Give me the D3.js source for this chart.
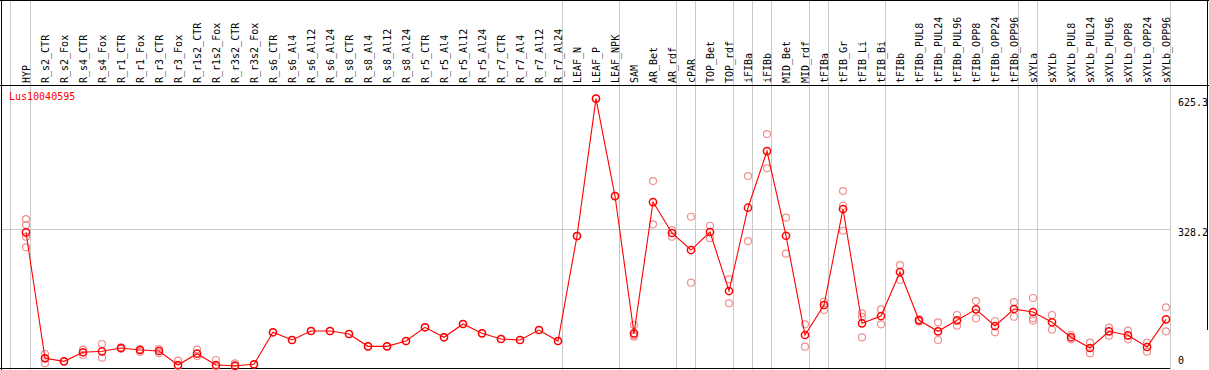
<!DOCTYPE html>
<html><head><meta charset="utf-8">
<script src="https://cdn.jsdelivr.net/npm/d3@7"></script>
<style>html,body{margin:0;padding:0;background:#fff;}svg{display:block;}</style>
</head><body>
<script>
const categories = ["HYP","R_s2_CTR","R_s2_Fox","R_s4_CTR","R_s4_Fox","R_r1_CTR","R_r1_Fox","R_r3_CTR","R_r3_Fox","R_r1s2_CTR","R_r1s2_Fox","R_r3s2_CTR","R_r3s2_Fox","R_s6_CTR","R_s6_Al4","R_s6_Al12","R_s6_Al24","R_s8_CTR","R_s8_Al4","R_s8_Al12","R_s8_Al24","R_r5_CTR","R_r5_Al4","R_r5_Al12","R_r5_Al24","R_r7_CTR","R_r7_Al4","R_r7_Al12","R_r7_Al24","LEAF_N","LEAF_P","LEAF_NPK","SAM","AR_Bet","AR_rdf","cPAR","TOP_Bet","TOP_rdf","iFIBa","iFIBb","MID_Bet","MID_rdf","tFIBa","tFIB_Gr","tFIB_Li","tFIB_Bi","tFIBb","tFIBb_PUL8","tFIBb_PUL24","tFIBb_PUL96","tFIBb_OPP8","tFIBb_OPP24","tFIBb_OPP96","sXYLa","sXYLb","sXYLb_PUL8","sXYLb_PUL24","sXYLb_PUL96","sXYLb_OPP8","sXYLb_OPP24","sXYLb_OPP96"];
const meanValues = [320.6,33.3,26.4,47,49.2,56.8,52.2,49.9,18,43.8,18,16.4,19.6,92.6,75,95.5,95.5,88.7,60.6,60.6,72.7,104,81.2,111.5,90.3,77.3,75,97.8,72.7,312.1,625.3,403.3,90.3,389.6,319,280.2,321.3,186.7,376.7,505.9,312.8,86.4,154.8,373.7,113.1,129.7,230,119.9,94.8,119.9,145,106.9,145.7,138.9,115.4,81.2,56.8,94.8,85.7,59.1,122.2];
const replicateValues = [[350.9,337.2,310.5,286.4],[43.1,21.9,33.3],[26.4],[52.9,40.8],[65.9,34.7],[58,55],[54,48],[54,45],[27.8,16],[52.9,38.5],[29.4,16],[21.9,15],[19.6],[92.6],[75],[95.5],[95.5],[88.7],[60.6],[60.6],[72.7],[104],[81.2],[111.5],[90.3],[77.3],[75],[97.8],[72.7],[312.1],[625.3],[403.3],[109.2,82.5,86],[437.5,338.8],[325.8,310.5],[356.1,205.7],[335.6,306.9],[213.4,158.7],[448.9,300.7],[544.7,466.5],[353.9,271.8],[110.8,59.7],[162.3,143.4],[414.7,381.2,324.2],[135.9,128.1,81.2],[145,110.8],[246,211.8],[122,117],[115.4,75],[132,107.6],[163.9,124.5],[118.3,92.6],[161.6,128.1],[170.8,124.5,119],[132,98.5],[86.4,76.6],[68.9,44.7],[103.1,84.8],[96.2,76.6],[68.9,48.3],[149.6,94.8]];
const tickValues = [625.3, 328.2, 0];
const tickLabels = ["625.3","328.2","0"];
const groupEnds = ["HYP","R_r7_Al24","LEAF_NPK","AR_rdf","cPAR","TOP_rdf","iFIBa","iFIBb","MID_rdf","tFIBa","tFIB_Bi","tFIBb_OPP96","sXYLa","sXYLb_OPP96"];
const geneName = "Lus10040595";

const W = 1209, H = 370;
const svg = d3.select("body").append("svg").attr("width", W).attr("height", H);
const x = d3.scalePoint().domain(categories).range([26, 1166]);
const y = d3.scaleLinear().domain([0, 625.3]).range([372.9, 98.7]);
const mono = "'DejaVu Sans Mono', monospace";

// gray vertical group lines
svg.append("line").attr("x1", 10.5).attr("x2", 10.5).attr("y1", 0).attr("y2", H).attr("stroke", "#c8c8c8");
svg.selectAll("line.g").data(groupEnds).enter().append("line")
  .attr("x1", d => Math.round(x(d) + 4) + 0.5).attr("x2", d => Math.round(x(d) + 4) + 0.5)
  .attr("y1", 0).attr("y2", H).attr("stroke", "#c8c8c8");
// horizontal gray at 328.2
svg.append("line").attr("x1", 1).attr("x2", 1170.5).attr("y1", Math.round(y(328.2)) + 0.5).attr("y2", Math.round(y(328.2)) + 0.5).attr("stroke", "#c8c8c8");

// borders
svg.append("line").attr("x1", 0).attr("x2", W).attr("y1", 0.5).attr("y2", 0.5).attr("stroke", "#000");
svg.append("line").attr("x1", 0).attr("x2", W).attr("y1", 85.5).attr("y2", 85.5).attr("stroke", "#000");
svg.append("line").attr("x1", 1.5).attr("x2", 1.5).attr("y1", 0).attr("y2", H).attr("stroke", "#000");
svg.append("line").attr("x1", 1207.5).attr("x2", 1207.5).attr("y1", 0).attr("y2", 330).attr("stroke", "#000");
svg.append("line").attr("x1", 0).attr("x2", 1170).attr("y1", 368.5).attr("y2", 368.5).attr("stroke", "#000");

// header labels
svg.selectAll("text.cat").data(categories).enter().append("text")
  .attr("transform", d => `translate(${x(d) + 3.5},83) rotate(-90)`)
  .attr("font-family", mono).attr("font-size", "10px").attr("fill", "#000")
  .text(d => d);

// right tick labels
svg.selectAll("text.tick").data(tickValues).enter().append("text")
  .attr("x", 1178).attr("y", (d, i) => i === 2 ? 364 : y(d) + 7.5)
  .attr("font-family", mono).attr("font-size", "10px").attr("fill", "#000")
  .text((d, i) => tickLabels[i]);

// gene name
svg.append("text").attr("x", 9).attr("y", 100).attr("font-family", mono).attr("font-size", "10px")
  .attr("fill", "#ff0000").text(geneName);

// replicates
const reps = [];
replicateValues.forEach((arr, i) => arr.forEach(v => reps.push({c: categories[i], v})));
svg.selectAll("circle.rep").data(reps).enter().append("circle")
  .attr("cx", d => x(d.c)).attr("cy", d => y(d.v)).attr("r", 3.5)
  .attr("fill", "none").attr("stroke", "#f09090").attr("stroke-width", 1.2);

// mean line
const line = d3.line().x((d, i) => x(categories[i])).y(d => y(d));
svg.append("path").datum(meanValues).attr("d", line).attr("fill", "none").attr("stroke", "#ff0000").attr("stroke-width", 1.1);

// mean circles
svg.selectAll("circle.mean").data(meanValues).enter().append("circle")
  .attr("cx", (d, i) => x(categories[i])).attr("cy", d => y(d)).attr("r", 3.6)
  .attr("fill", "none").attr("stroke", "#ff0000").attr("stroke-width", 1.5);
</script>
</body></html>
